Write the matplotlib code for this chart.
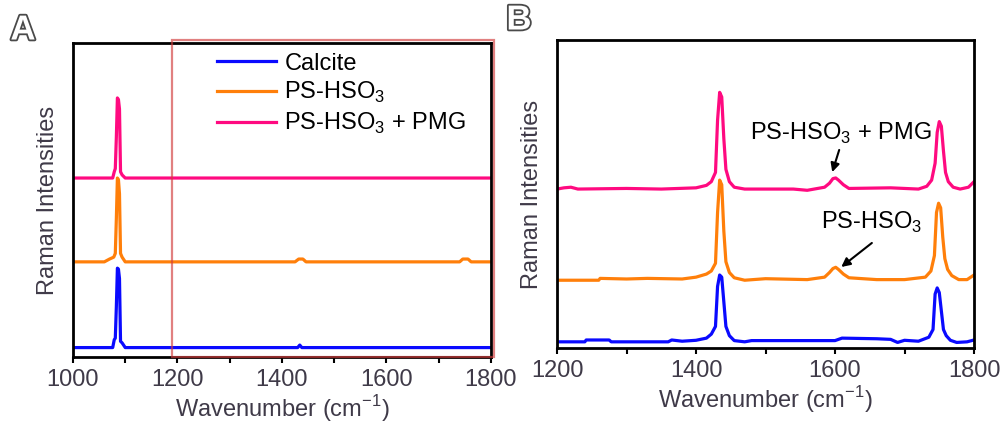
import matplotlib
matplotlib.use("Agg")
import matplotlib.pyplot as plt
import matplotlib.patheffects as pe
from matplotlib.patches import Rectangle
from matplotlib.ticker import MultipleLocator

plt.rcParams["font.family"] = ["Liberation Sans", "DejaVu Sans"]
plt.rcParams["mathtext.fontset"] = "custom"
plt.rcParams["mathtext.rm"] = "Liberation Sans"

# ---- panel A: full range 1000-1800 cm-1 (offset spectra, axis units 0..1)
calcite_a_x = [1000, 1076, 1079, 1081, 1083, 1085, 1087, 1089, 1091, 1094, 1100,
               1430, 1434, 1438, 1800]
calcite_a_y = [0.030, 0.030, 0.055, 0.060, 0.160, 0.283, 0.280, 0.250, 0.050, 0.045, 0.030,
               0.030, 0.038, 0.030, 0.030]

ps_a_x = [1000, 1060, 1070, 1078, 1081, 1083, 1085, 1087, 1089, 1091, 1094, 1100,
          1425, 1432, 1440, 1446, 1740, 1746, 1756, 1762, 1800]
ps_a_y = [0.303, 0.303, 0.312, 0.318, 0.330, 0.440, 0.570, 0.565, 0.520, 0.330, 0.318, 0.303,
          0.303, 0.312, 0.312, 0.303, 0.303, 0.312, 0.312, 0.303, 0.303]

pmg_a_x = [1000, 1076, 1079, 1081, 1083, 1085, 1087, 1089, 1091, 1094, 1100, 1800]
pmg_a_y = [0.570, 0.570, 0.590, 0.600, 0.700, 0.825, 0.820, 0.790, 0.590, 0.580, 0.570, 0.570]

# ---- panel B: zoom 1200-1800 cm-1
calcite_b_x = [1200, 1240, 1242, 1275, 1278, 1360, 1365, 1380, 1400, 1415, 1422, 1428,
               1431, 1434, 1437, 1440, 1443, 1448, 1455, 1470, 1480, 1600, 1610, 1660,
               1680, 1690, 1700, 1720, 1735, 1741, 1744, 1747, 1750, 1753, 1756, 1760,
               1766, 1775, 1790, 1800]
calcite_b_y = [0.020, 0.020, 0.026, 0.026, 0.020, 0.020, 0.026, 0.022, 0.025, 0.032, 0.045, 0.070,
               0.200, 0.237, 0.230, 0.150, 0.070, 0.040, 0.024, 0.020, 0.024, 0.024, 0.032, 0.030,
               0.028, 0.018, 0.025, 0.022, 0.035, 0.060, 0.175, 0.195, 0.180, 0.120, 0.060, 0.040,
               0.025, 0.018, 0.020, 0.026]

ps_b_x = [1200, 1260, 1262, 1300, 1330, 1380, 1400, 1415, 1422, 1428, 1431, 1434,
          1437, 1440, 1443, 1448, 1455, 1470, 1500, 1560, 1585, 1592, 1597, 1601,
          1605, 1612, 1620, 1660, 1700, 1730, 1738, 1743, 1746, 1749, 1752, 1755,
          1758, 1762, 1768, 1778, 1790, 1800]
ps_b_y = [0.220, 0.220, 0.226, 0.224, 0.226, 0.224, 0.230, 0.240, 0.250, 0.275, 0.440, 0.545,
          0.530, 0.380, 0.280, 0.245, 0.228, 0.220, 0.225, 0.222, 0.230, 0.245, 0.258, 0.262,
          0.255, 0.240, 0.228, 0.222, 0.222, 0.230, 0.250, 0.300, 0.440, 0.470, 0.455, 0.360,
          0.290, 0.255, 0.235, 0.222, 0.222, 0.237]

pmg_b_x = [1200, 1210, 1220, 1230, 1300, 1350, 1400, 1415, 1422, 1428, 1431, 1434,
           1437, 1440, 1443, 1448, 1455, 1470, 1540, 1560, 1585, 1592, 1597, 1601,
           1605, 1612, 1620, 1680, 1720, 1732, 1739, 1744, 1747, 1750, 1753, 1756,
           1759, 1763, 1770, 1780, 1792, 1800]
pmg_b_y = [0.516, 0.520, 0.522, 0.516, 0.518, 0.516, 0.520, 0.528, 0.540, 0.570, 0.740, 0.830,
           0.815, 0.680, 0.580, 0.540, 0.522, 0.516, 0.516, 0.512, 0.522, 0.535, 0.550, 0.552,
           0.545, 0.530, 0.518, 0.520, 0.516, 0.525, 0.545, 0.600, 0.700, 0.735, 0.720, 0.640,
           0.570, 0.540, 0.522, 0.516, 0.522, 0.540]

series_labels = ["Calcite", "PS-HSO$_3$", "PS-HSO$_3$ + PMG"]
colors = ["#0a0aff", "#ff7f0a", "#ff0a80"]

TICK_COLOR = "#3f3a48"
FS = 17


def style_axis(ax, major, minor):
    for s in ax.spines.values():
        s.set_linewidth(2.0)
        s.set_color("black")
    ax.set_yticks([])
    ax.xaxis.set_major_locator(MultipleLocator(major))
    ax.xaxis.set_minor_locator(MultipleLocator(minor))
    ax.tick_params(axis="x", which="both", direction="out", width=1.5, length=4,
                   color="black", labelcolor=TICK_COLOR, labelsize=FS, pad=5)
    ax.set_xlabel("Wavenumber (cm$^{-1}$)", fontsize=FS, color=TICK_COLOR, labelpad=1)
    ax.set_ylabel("Raman Intensities", fontsize=FS, color=TICK_COLOR, labelpad=10)
    ax.set_ylim(0, 1)


def panel_letter(fig, x, y, s):
    t = fig.text(x, y, s, fontsize=25, fontweight="bold", color="white",
                 ha="center", va="center")
    t.set_path_effects([pe.Stroke(linewidth=2.6, foreground="#4a4a4a"), pe.Normal()])


def arrow(ax, start, end):
    ax.annotate("", xy=end, xytext=start,
                arrowprops=dict(arrowstyle="-|>", color="black", lw=1.5,
                                shrinkA=0, shrinkB=0, mutation_scale=13))


fig = plt.figure(figsize=(10.08, 4.25), dpi=100)
ax_a = fig.add_axes([0.0724, 0.16, 0.4147, 0.7388])
ax_b = fig.add_axes([0.5526, 0.1812, 0.4137, 0.7247])

for xs, ys, c, lab in zip([calcite_a_x, ps_a_x, pmg_a_x],
                          [calcite_a_y, ps_a_y, pmg_a_y], colors, series_labels):
    ax_a.plot(xs, ys, color=c, lw=2.3, label=lab)
ax_a.set_xlim(1000, 1800)
style_axis(ax_a, 200, 100)
ax_a.legend(loc="upper left", bbox_to_anchor=(0.305, 1.022), frameon=False,
            fontsize=FS, handlelength=2.5, handletextpad=0.35, labelspacing=0.24,
            borderaxespad=0.3)

# red highlight box marking the zoomed region
box = Rectangle((1190, 0), 615, 1.01, fill=False, edgecolor="#d23c3c", alpha=0.65,
                lw=1.6, clip_on=False, zorder=5)
ax_a.add_patch(box)

for xs, ys, c in zip([calcite_b_x, ps_b_x, pmg_b_x],
                     [calcite_b_y, ps_b_y, pmg_b_y], colors):
    ax_b.plot(xs, ys, color=c, lw=2.3)
ax_b.set_xlim(1200, 1800)
style_axis(ax_b, 200, 100)

ax_b.text(1609, 0.698, "PS-HSO$_3$ + PMG", fontsize=FS, ha="center", va="center")
arrow(ax_b, (1606, 0.643), (1596, 0.571))
ax_b.text(1652, 0.409, "PS-HSO$_3$", fontsize=FS, ha="center", va="center")
arrow(ax_b, (1653, 0.341), (1609, 0.263))

panel_letter(fig, 23 / 1008, 1 - 30 / 425, "A")
panel_letter(fig, 519 / 1008, 1 - 20 / 425, "B")

fig.savefig("out.png", dpi=100)
